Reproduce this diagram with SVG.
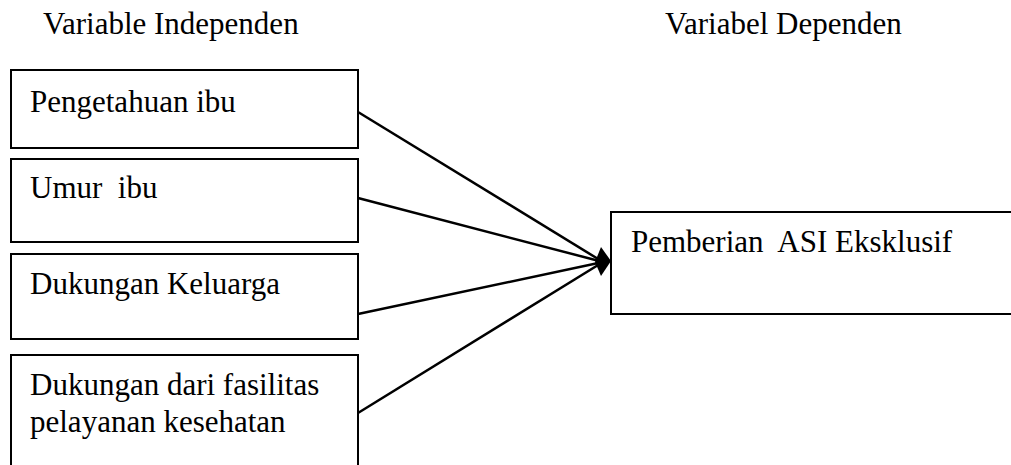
<svg xmlns="http://www.w3.org/2000/svg" width="1011" height="465" viewBox="0 0 1011 465">
<style>
.box{fill:#fff;stroke:#000;stroke-width:2}
.t{font-family:"Liberation Serif","Times New Roman",serif;font-size:31px;fill:#000}
.c{stroke:#000;stroke-width:2.5;fill:none}
</style>
<rect width="1011" height="465" fill="#fff"/>
<g id="title-independen"><text class="t" x="43" y="34">Variable Independen</text></g>
<g id="title-dependen"><text class="t" x="665" y="34">Variabel Dependen</text></g>
<g id="n1"><rect class="box" x="11" y="70" width="347" height="78"/><text class="t" x="30" y="112">Pengetahuan ibu</text></g>
<g id="n2"><rect class="box" x="11" y="159" width="347" height="83"/><text class="t" x="30" y="198" xml:space="preserve">Umur  ibu</text></g>
<g id="n3"><rect class="box" x="11" y="254" width="347" height="85"/><text class="t" x="30" y="294">Dukungan Keluarga</text></g>
<g id="n4"><rect class="box" x="11" y="355" width="347" height="130"/><text class="t" x="30" y="395">Dukungan dari fasilitas</text><text class="t" x="30" y="432">pelayanan kesehatan</text></g>
<g id="n5"><rect class="box" x="611" y="212" width="430" height="102"/><text class="t" x="631" y="252" xml:space="preserve">Pemberian  ASI Eksklusif</text></g>
<g id="connectors">
<line class="c" x1="358" y1="112" x2="603" y2="262"/>
<line class="c" x1="358" y1="198" x2="603" y2="262"/>
<line class="c" x1="358" y1="314" x2="603" y2="262"/>
<line class="c" x1="358" y1="413" x2="603" y2="262"/>
<polygon points="611,261 601,247 595,262 601,276" fill="#000"/>
</g>
</svg>
